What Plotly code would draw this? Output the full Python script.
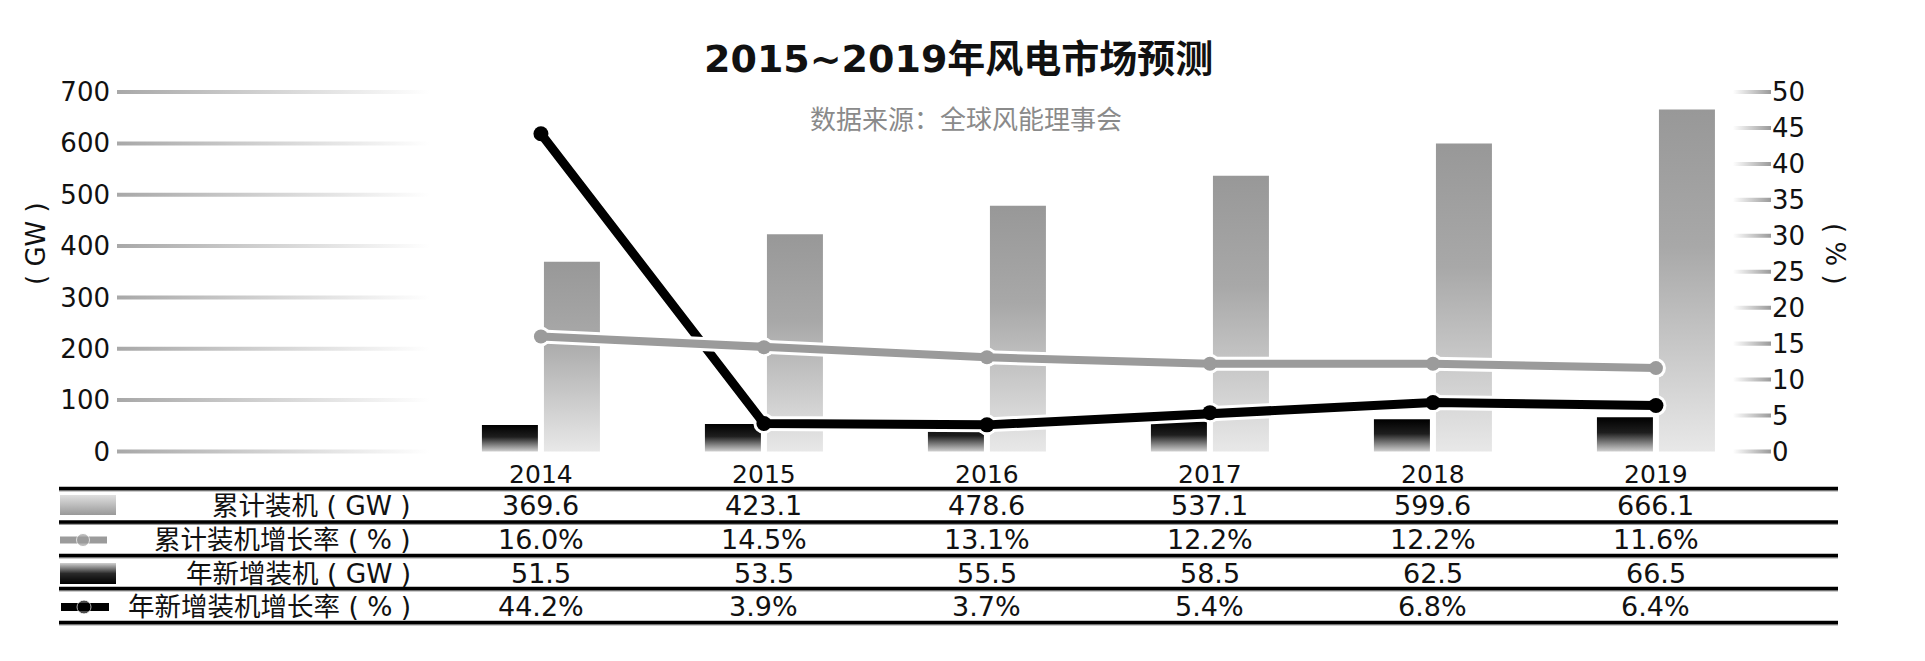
"""
2015~2019年风电市场预测（数据来源：全球风能理事会）
- 左轴: 装机 (GW) 柱状, 右轴: 增长率 (%) 折线
- 下方表格: 各年数值
"""
import plotly.graph_objects as go

# 页面 body 默认 8px 边距, 图尺寸相应缩小
OFF = 8
FIG_W, FIG_H = 1925 - OFF, 661 - OFF

# 数据
years = ['2014', '2015', '2016', '2017', '2018', '2019']
cum_install = [369.6, 423.1, 478.6, 537.1, 599.6, 666.1]   # 累计装机 (GW)
cum_growth = [16.0, 14.5, 13.1, 12.2, 12.2, 11.6]          # 累计装机增长率 (%)
new_install = [51.5, 53.5, 55.5, 58.5, 62.5, 66.5]         # 年新增装机 (GW)
new_growth = [44.2, 3.9, 3.7, 5.4, 6.8, 6.4]               # 年新增装机增长率 (%)
left_ticks = [0, 100, 200, 300, 400, 500, 600, 700]
right_ticks = [0, 5, 10, 15, 20, 25, 30, 35, 40, 45, 50]
row_labels = ['累计装机 ( GW )', '累计装机增长率 ( % )', '年新增装机 ( GW )', '年新增装机增长率 ( % )']

# 版面 (截图像素)
PLOT_L, PLOT_R = 117, 1771
PLOT_T, PLOT_B = 86.9, 456.6
X_RANGE = [-1.901, 5.516]
Y_RANGE = [-10, 710]
Y2_RANGE = [-10 / 14, 710 / 14]

NUM_FONT = 'DejaVu Sans, Noto Sans CJK SC'
CJK_FONT = 'Noto Sans CJK SC, DejaVu Sans'

GRAY_BAR = [[0, '#e8e8e8'], [0.6, '#a8a8a8'], [1, '#989898']]
BLACK_BAR = [[0, '#d0d0d0'], [0.55, '#1e1e1e'], [1, '#000000']]
GRAY_LINE = '#9b9b9b'


def fx(p):
    return (p - OFF) / FIG_W


def fy(p):
    return 1 - (p - OFF) / FIG_H


fig = go.Figure()

# 渐变网格线 (左侧)
gx, gy = [], []
half = 3.9
for t in left_ticks:
    gx += [X_RANGE[0], -0.5, -0.5, X_RANGE[0], X_RANGE[0], None]
    gy += [t - half, t - half, t + half, t + half, t - half, None]
fig.add_trace(go.Scatter(x=gx, y=gy, fill='toself', mode='lines', line=dict(width=0),
                         fillgradient=dict(type='horizontal', colorscale=[[0, '#a8a8a8'], [1, '#ffffff']]),
                         hoverinfo='skip', showlegend=False))

# 右轴渐变刻度
rx, ry = [], []
half2 = 0.28
for t in right_ticks:
    rx += [5.345, X_RANGE[1], X_RANGE[1], 5.345, 5.345, None]
    ry += [t - half2, t - half2, t + half2, t + half2, t - half2, None]
fig.add_trace(go.Scatter(x=rx, y=ry, yaxis='y2', fill='toself', mode='lines', line=dict(width=0),
                         fillgradient=dict(type='horizontal', colorscale=[[0, '#ffffff'], [1, '#9a9a9a']]),
                         hoverinfo='skip', showlegend=False))

# 柱 (渐变)
a, b = 0.0135, 0.2646
for i, v in enumerate(cum_install):
    fig.add_trace(go.Scatter(x=[i + a, i + b, i + b, i + a, i + a], y=[0, 0, v, v, 0],
                             fill='toself', mode='lines', line=dict(width=0),
                             fillgradient=dict(type='vertical', colorscale=GRAY_BAR),
                             hoverinfo='skip', showlegend=False))
for i, v in enumerate(new_install):
    fig.add_trace(go.Scatter(x=[i - b, i - a, i - a, i - b, i - b], y=[0, 0, v, v, 0],
                             fill='toself', mode='lines', line=dict(width=0),
                             fillgradient=dict(type='vertical', colorscale=BLACK_BAR),
                             hoverinfo='skip', showlegend=False))

xs = list(range(len(years)))

# 折线 (白色描边 + 本体)
fig.add_trace(go.Scatter(x=xs, y=new_growth, yaxis='y2', mode='lines+markers',
                         line=dict(color='white', width=15), marker=dict(size=21, color='white'),
                         hoverinfo='skip', showlegend=False))
fig.add_trace(go.Scatter(x=xs, y=new_growth, yaxis='y2', mode='lines+markers',
                         line=dict(color='#000000', width=9), marker=dict(size=15, color='#000000'),
                         showlegend=False))
fig.add_trace(go.Scatter(x=xs, y=cum_growth, yaxis='y2', mode='lines+markers',
                         line=dict(color='white', width=14), marker=dict(size=20, color='white'),
                         hoverinfo='skip', showlegend=False))
fig.add_trace(go.Scatter(x=xs, y=cum_growth, yaxis='y2', mode='lines+markers',
                         line=dict(color=GRAY_LINE, width=8), marker=dict(size=14, color=GRAY_LINE),
                         showlegend=False))

# 表格图例图标 (整图像素坐标轴)
fig.add_trace(go.Scatter(x=[60, 116, 116, 60, 60], y=[515, 515, 495, 495, 515], xaxis='x3', yaxis='y3',
                         fill='toself', mode='lines', line=dict(width=0),
                         fillgradient=dict(type='vertical', colorscale=[[0, '#999999'], [1, '#e0e0e0']]),
                         hoverinfo='skip', showlegend=False))
fig.add_trace(go.Scatter(x=[60, 116, 116, 60, 60], y=[584, 584, 563, 563, 584], xaxis='x3', yaxis='y3',
                         fill='toself', mode='lines', line=dict(width=0),
                         fillgradient=dict(type='vertical', colorscale=[[0, '#000000'], [0.5, '#2a2a2a'], [1, '#d0d0d0']]),
                         hoverinfo='skip', showlegend=False))
fig.add_trace(go.Scatter(x=[60, 83, 107], y=[540, 540, 540], xaxis='x3', yaxis='y3', mode='lines+markers',
                         line=dict(color=GRAY_LINE, width=7), marker=dict(size=[0, 13, 0], color=GRAY_LINE),
                         hoverinfo='skip', showlegend=False))
fig.add_trace(go.Scatter(x=[61, 84, 109], y=[607, 607, 607], xaxis='x3', yaxis='y3', mode='lines+markers',
                         line=dict(color='#000000', width=8), marker=dict(size=[0, 14, 0], color='#000000'),
                         hoverinfo='skip', showlegend=False))

# 注释
annotations = [
    dict(x=fx(958), y=fy(59), text='<b>2015~2019年风电市场预测</b>', font=dict(size=38, family=NUM_FONT, color='#111')),
    dict(x=fx(966), y=fy(118), text='数据来源：全球风能理事会', font=dict(size=26, family=CJK_FONT, color='#8a8a8a')),
    dict(x=fx(19), y=fy(244), text='( GW )', textangle=-90, font=dict(size=26, family='DejaVu Sans', color='#111')),
    dict(x=fx(1852), y=fy(254), text='( % )', textangle=90, font=dict(size=26, family='DejaVu Sans', color='#111')),
]
row_y = [505, 539, 573, 606]
for lab, yy in zip(row_labels, row_y):
    annotations.append(dict(x=fx(413), y=fy(yy), text=lab, xanchor='right',
                            font=dict(size=26.5, family=NUM_FONT, color='#111')))
rows = [[f'{v:.1f}' for v in cum_install], [f'{v:.1f}%' for v in cum_growth],
        [f'{v:.1f}' for v in new_install], [f'{v:.1f}%' for v in new_growth]]
for vals, yy in zip(rows, row_y):
    for i, s in enumerate(vals):
        annotations.append(dict(x=i, xref='x', y=fy(yy), text=s,
                                font=dict(size=27, family=NUM_FONT, color='#111')))
for an in annotations:
    an.setdefault('xref', 'paper')
    an.setdefault('yref', 'paper')
    an.setdefault('showarrow', False)
    an.setdefault('yanchor', 'middle')

# 表格分隔线 (黑线 + 下方灰边)
shapes = []
for yy in [488.5, 522, 555.5, 588.5, 622.5]:
    shapes.append(dict(type='line', xref='paper', yref='paper', x0=fx(59), x1=fx(1838), y0=fy(yy + 2), y1=fy(yy + 2),
                       line=dict(color='#9a9a9a', width=2)))
    shapes.append(dict(type='line', xref='paper', yref='paper', x0=fx(59), x1=fx(1838), y0=fy(yy), y1=fy(yy),
                       line=dict(color='#000000', width=3.5)))

fig.update_layout(
    width=FIG_W, height=FIG_H, template='none',
    margin=dict(l=0, r=0, t=0, b=0),
    paper_bgcolor='white', plot_bgcolor='rgba(0,0,0,0)',
    showlegend=False, annotations=annotations, shapes=shapes,
    xaxis=dict(domain=[fx(PLOT_L), fx(PLOT_R)], range=X_RANGE, tickvals=xs, ticktext=years,
               showgrid=False, zeroline=False, showline=False, ticks='', automargin=False,
               tickfont=dict(size=25, family=NUM_FONT, color='#111'), ticklabelstandoff=0),
    yaxis=dict(domain=[fy(PLOT_B), fy(PLOT_T)], range=Y_RANGE, tickvals=left_ticks,
               showgrid=False, zeroline=False, showline=False, ticks='', automargin=False,
               tickfont=dict(size=26, family=NUM_FONT, color='#111'), ticklabelstandoff=6),
    yaxis2=dict(overlaying='y', side='right', anchor='x', range=Y2_RANGE, tickvals=right_ticks,
                showgrid=False, zeroline=False, showline=False, ticks='', automargin=False,
                tickfont=dict(size=26, family=NUM_FONT, color='#111'), ticklabelstandoff=0),
    xaxis3=dict(domain=[0, 1], range=[OFF, OFF + FIG_W], anchor='y3', visible=False, fixedrange=True),
    yaxis3=dict(domain=[0, 1], range=[OFF + FIG_H, OFF], anchor='x3', visible=False, fixedrange=True),
)

fig.write_html('out.html')
